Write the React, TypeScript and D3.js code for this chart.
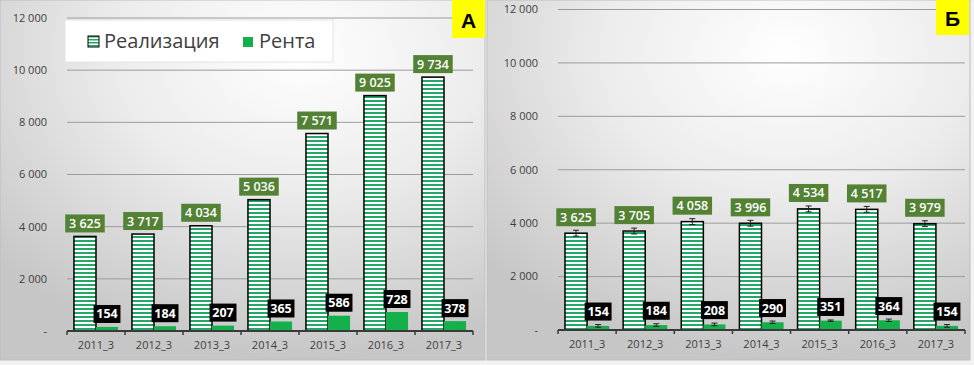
import React from "react";
import * as d3 from "d3";

const categories = ["2011_3", "2012_3", "2013_3", "2014_3", "2015_3", "2016_3", "2017_3"];
const realA = [3625, 3717, 4034, 5036, 7571, 9025, 9734];
const rentA = [154, 184, 207, 365, 586, 728, 378];
const realB = [3625, 3705, 4058, 3996, 4534, 4517, 3979];
const rentB = [154, 184, 208, 290, 351, 364, 154];
const realBErr = [110, 110, 110, 110, 110, 110, 110];
const rentBErr = [50, 50, 50, 45, 25, 45, 50];
const yTicks = [0, 2000, 4000, 6000, 8000, 10000, 12000];
const seriesNames = ["Реализация", "Рента"];

const W = 974;
const H = 365;
const FONT = "'Open Sans', 'Liberation Sans', sans-serif";
const STRIPE = "#25a76a";
const RENT = "#14b04c";
const LABEL_GREEN = "#548235";

const fmt = (v: number) => {
  const s = String(v);
  return s.replace(/\B(?=(\d{3})+(?!\d))/g, " ");
};

type PanelProps = {
  x0: number; x1: number; yBase: number; yTop: number;
  panelX: number; panelW: number; panelH: number;
  real: number[]; rent: number[]; realErr?: number[]; rentErr?: number[];
  tag: string; tagX: number; tagH: number; legend: boolean; id: string;
};

function Panel(p: PanelProps) {
  const x = d3.scaleBand<string>().domain(categories).range([p.x0, p.x1]).padding(0);
  const bw = x.bandwidth();
  const inner = d3.scaleBand<string>().domain(["real", "rent"]).range([bw * 0.12, bw * 0.88]).padding(0);
  const iw = inner.bandwidth();
  const y = d3.scaleLinear().domain([0, 12000]).range([p.yBase, p.yTop]);
  const labelW = (s: string) => s.length * 6.3 + 8;
  return (
    <g>
      <rect x={p.panelX} y={0} width={p.panelW} height={p.panelH} fill={`url(#bg${p.id})`} stroke="#bdbdbd" strokeWidth={1} />
      {yTicks.map((t) => (
        <g key={t}>
          {t > 0 && <line x1={p.x0} x2={p.x1} y1={y(t)} y2={y(t)} stroke="#9c9c9c" strokeWidth={1} />}
          <text x={p.x0 - 20} y={y(t)} dy="0.35em" textAnchor="end" fontSize={11} fill="#404040" fontFamily={FONT}>
            {t === 0 ? "-" : fmt(t)}
          </text>
        </g>
      ))}
      {categories.map((c, i) => {
        const cx = x(c)!;
        const rx = cx + inner("real")!;
        const nx = cx + inner("rent")!;
        const rv = p.real[i];
        const nv = p.rent[i];
        const rl = fmt(rv);
        const nl = fmt(nv);
        const rw = labelW(rl);
        const nw = labelW(nl);
        const rTop = p.realErr ? y(rv + p.realErr[i]) : y(rv);
        const nTop = p.rentErr ? y(nv + p.rentErr[i]) : y(nv);
        return (
          <g key={c}>
            <rect x={rx} y={y(rv)} width={iw} height={p.yBase - y(rv)} fill={`url(#stripe${p.id})`} stroke="#000" strokeWidth={1.5} />
            <rect x={nx} y={y(nv)} width={iw} height={p.yBase - y(nv)} fill={RENT} />
            {p.realErr && (
              <g stroke="#222" strokeWidth={1}>
                <line x1={rx + iw / 2} x2={rx + iw / 2} y1={y(rv + p.realErr[i])} y2={y(rv - p.realErr[i])} />
                <line x1={rx + iw / 2 - 3} x2={rx + iw / 2 + 3} y1={y(rv + p.realErr[i])} y2={y(rv + p.realErr[i])} />
                <line x1={rx + iw / 2 - 3} x2={rx + iw / 2 + 3} y1={y(rv - p.realErr[i])} y2={y(rv - p.realErr[i])} />
              </g>
            )}
            {p.rentErr && (
              <g stroke="#222" strokeWidth={1}>
                <line x1={nx + iw / 2} x2={nx + iw / 2} y1={y(nv + p.rentErr[i])} y2={y(nv - p.rentErr[i])} />
                <line x1={nx + iw / 2 - 3} x2={nx + iw / 2 + 3} y1={y(nv + p.rentErr[i])} y2={y(nv + p.rentErr[i])} />
                <line x1={nx + iw / 2 - 3} x2={nx + iw / 2 + 3} y1={y(nv - p.rentErr[i])} y2={y(nv - p.rentErr[i])} />
              </g>
            )}
            <rect x={rx + iw / 2 - rw / 2} y={rTop - 4 - 18} width={rw} height={18} fill={LABEL_GREEN} />
            <text x={rx + iw / 2} y={rTop - 4 - 9} dy="0.36em" textAnchor="middle" fill="#fff" fontSize={12.5} fontWeight={600} fontFamily={FONT}>{rl}</text>
            <rect x={nx + iw / 2 - nw / 2} y={nTop - 4 - 18} width={nw} height={18} fill="#000" />
            <text x={nx + iw / 2} y={nTop - 4 - 9} dy="0.36em" textAnchor="middle" fill="#fff" fontSize={12.5} fontWeight={700} fontFamily={FONT}>{nl}</text>
            <text x={cx + bw / 2} y={p.yBase + 14} dy="0.35em" textAnchor="middle" fontSize={11} fill="#404040" fontFamily={FONT}>{c}</text>
          </g>
        );
      })}
      <line x1={p.x0} x2={p.x1} y1={p.yBase} y2={p.yBase} stroke="#3a3a3a" strokeWidth={2} />
      {[...categories.map((c) => x(c)!), p.x1].map((tx, i) => (
        <line key={i} x1={tx} x2={tx} y1={p.yBase} y2={p.yBase + 4} stroke="#3a3a3a" strokeWidth={1.5} />
      ))}
      <rect x={p.tagX} y={0} width={33} height={p.tagH} fill="#ffff00" />
      <text x={p.tagX + 16.5} y={p.tagH / 2 + 1} dy="0.36em" textAnchor="middle" fontSize={21} fontWeight={700} fontFamily="'Liberation Sans', Arial, sans-serif" fill="#000">{p.tag}</text>
      {p.legend && (
        <g>
          <rect x={65} y={20} width={268} height={42} fill="#ffffff" stroke="#e4e4e4" strokeWidth={1} />
          <rect x={88} y={36} width={11} height={11} fill={`url(#stripeL${p.id})`} stroke="#000" strokeWidth={1} />
          <text x={104} y={48} fontSize={20} fill="#404040" fontFamily={FONT}>{seriesNames[0]}</text>
          <rect x={243} y={37} width={10} height={10} fill={RENT} />
          <text x={259} y={48} fontSize={20} fill="#404040" fontFamily={FONT}>{seriesNames[1]}</text>
        </g>
      )}
    </g>
  );
}

export default function App() {
  return (
    <svg width={W} height={H} style={{ position: "absolute", left: 0, top: 0, background: "#f2f2f2" }}>
      <defs>
        {["A", "B"].map((id) => (
          <g key={id}>
            <radialGradient id={`bg${id}`} cx="0.62" cy="0.15" r="0.85">
              <stop offset="0" stopColor="#ffffff" />
              <stop offset="0.45" stopColor="#ececec" />
              <stop offset="1" stopColor="#c6c6c6" />
            </radialGradient>
            <pattern id={`stripe${id}`} patternUnits="userSpaceOnUse" width={4} height={4}>
              <rect x={0} y={0} width={4} height={4} fill="#ffffff" />
              <rect x={0} y={0} width={4} height={2} fill={STRIPE} />
            </pattern>
            <pattern id={`stripeL${id}`} patternUnits="userSpaceOnUse" width={3} height={3}>
              <rect x={0} y={0} width={3} height={3} fill="#ffffff" />
              <rect x={0} y={0} width={3} height={1.5} fill={STRIPE} />
            </pattern>
          </g>
        ))}
      </defs>
      <Panel id="A" x0={67} x1={473} yBase={331} yTop={18} panelX={0} panelW={485} panelH={360}
        real={realA} rent={rentA} tag="А" tagX={452} tagH={38} legend={true} />
      <Panel id="B" x0={558} x1={965} yBase={330} yTop={9.5} panelX={487} panelW={483} panelH={360}
        real={realB} rent={rentB} realErr={realBErr} rentErr={rentBErr} tag="Б" tagX={936} tagH={35} legend={false} />
    </svg>
  );
}
